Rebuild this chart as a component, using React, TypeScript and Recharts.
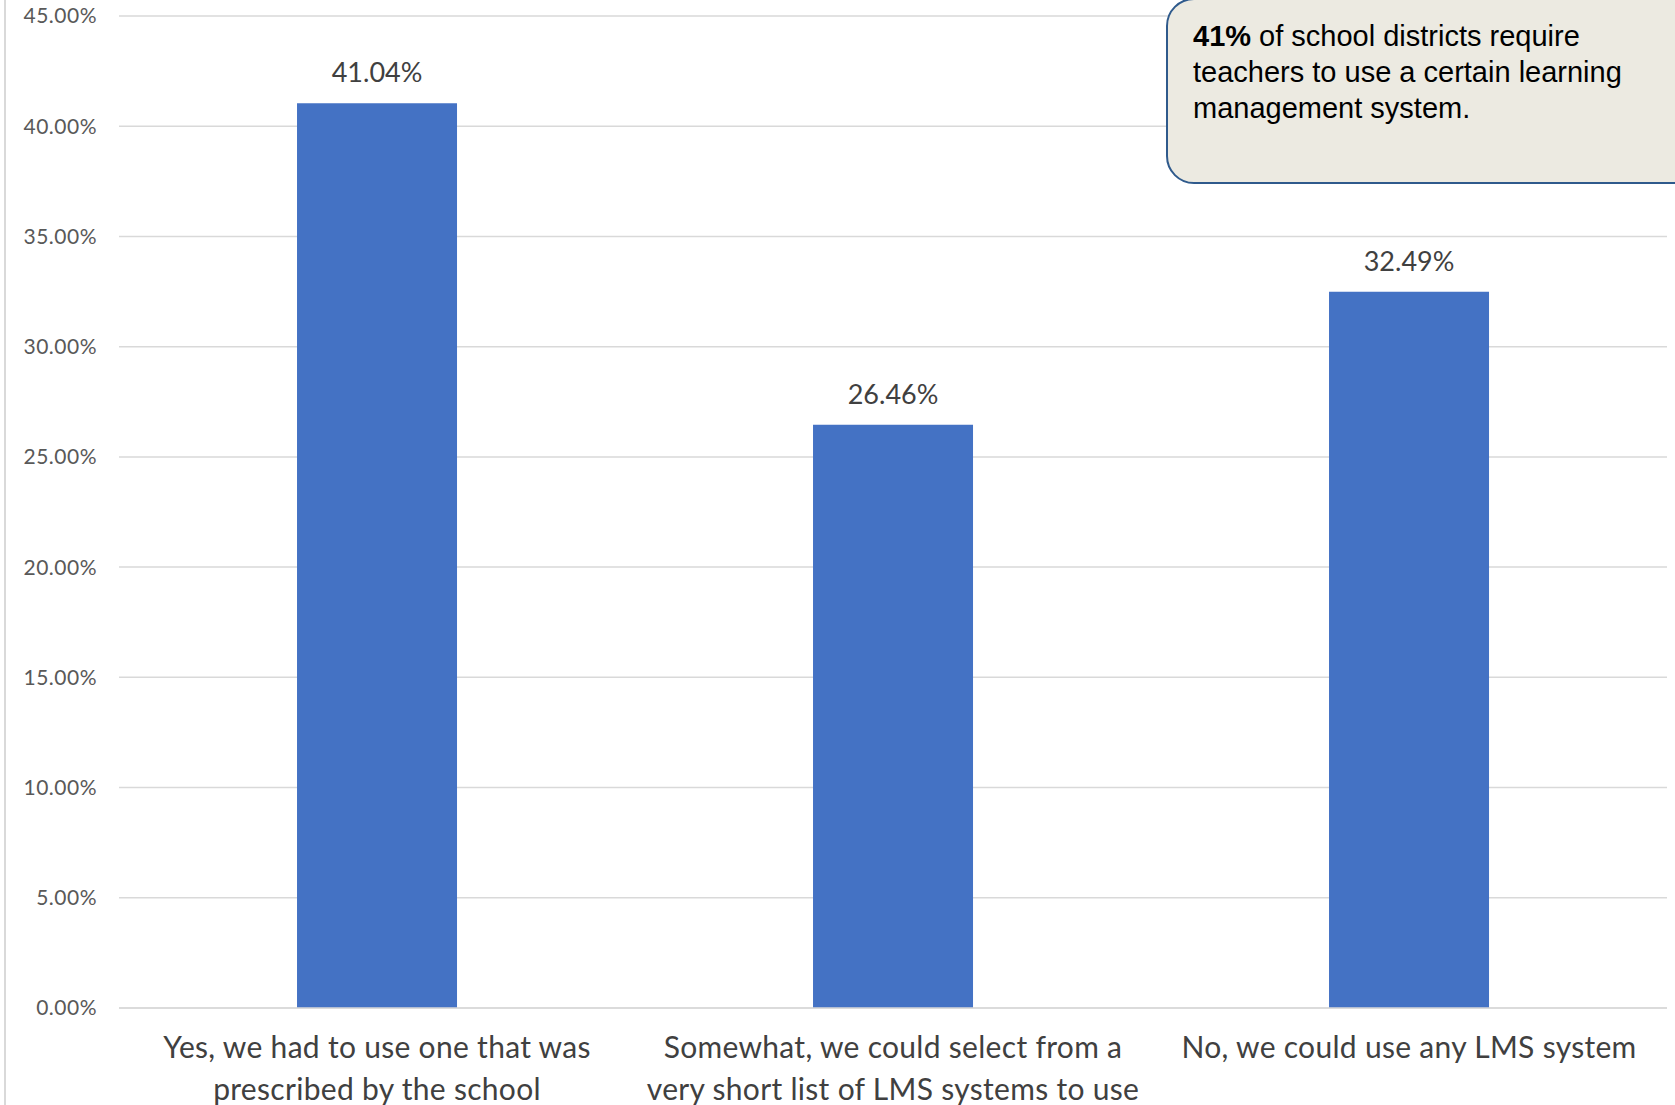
import React from "react";
import {
  BarChart,
  Bar,
  XAxis,
  YAxis,
  CartesianGrid,
  LabelList,
} from "recharts";

// categories (\n marks the line break used on the axis)
const categories = [
  "Yes, we had to use one that was\nprescribed by the school",
  "Somewhat, we could select from a\nvery short list of LMS systems to use",
  "No, we could use any LMS system",
];

// share of respondents, in percent
const shares = [41.04, 26.46, 32.49];

const yTicks = [0, 5, 10, 15, 20, 25, 30, 35, 40, 45];

const data = categories.map((name, i) => ({ name, value: shares[i] }));

const AXIS_FONT = "Lato, 'Open Sans', sans-serif";

function CategoryTick({ x, y, payload }: any) {
  const lines = String(payload.value).split("\n");
  return (
    <g>
      {lines.map((line, i) => (
        <text
          key={i}
          x={x}
          y={y + 50 + i * 42}
          textAnchor="middle"
          fill="#404040"
          fontSize={30}
          letterSpacing={0.3}
          fontFamily={AXIS_FONT}
        >
          {line}
        </text>
      ))}
    </g>
  );
}

export default function App() {
  return (
    <div
      style={{
        position: "absolute",
        left: 0,
        top: 0,
        width: 1675,
        height: 1105,
        overflow: "hidden",
        background: "#fff",
      }}
    >
      <div
        style={{
          position: "absolute",
          left: 4,
          top: 0,
          width: 2,
          height: 1105,
          background: "#d9d9d9",
        }}
      />
      <BarChart
        width={1675}
        height={1105}
        data={data}
        margin={{ top: 16, right: 8, bottom: 0, left: 0 }}
        barCategoryGap="34.5%"
      >
        <CartesianGrid vertical={false} stroke="#d9d9d9" strokeWidth={1.5} />
        <XAxis
          dataKey="name"
          height={97}
          axisLine={{ stroke: "#d9d9d9", strokeWidth: 1.5 }}
          tickLine={false}
          tickSize={0}
          tickMargin={0}
          interval={0}
          tick={<CategoryTick />}
        />
        <YAxis
          width={119}
          domain={[0, 45]}
          ticks={yTicks}
          axisLine={false}
          tickLine={false}
          tickSize={0}
          tickMargin={22}
          tickFormatter={(v: number) => v.toFixed(2) + "%"}
          tick={{
            fill: "#595959",
            fontSize: 21,
            fontFamily: AXIS_FONT,
            letterSpacing: 0.5,
          }}
        />
        <Bar dataKey="value" fill="#4472c4" isAnimationActive={false}>
          <LabelList
            dataKey="value"
            position="top"
            offset={21}
            formatter={(v: any) => Number(v).toFixed(2) + "%"}
            fill="#404040"
            fontSize={27}
            fontFamily={AXIS_FONT}
          />
        </Bar>
      </BarChart>

      <div
        style={{
          position: "absolute",
          left: 1166,
          top: -2,
          width: 560,
          height: 186,
          boxSizing: "border-box",
          border: "2px solid #2f5a8c",
          borderRadius: 28,
          background: "#eceae1",
          padding: "18px 0 0 25px",
          fontFamily: "'Liberation Sans', Arial, sans-serif",
          fontSize: 29,
          lineHeight: "36px",
          color: "#000",
        }}
      >
        <b>41%</b> of school districts require
        <br />
        teachers to use a certain learning
        <br />
        management system.
      </div>
    </div>
  );
}
